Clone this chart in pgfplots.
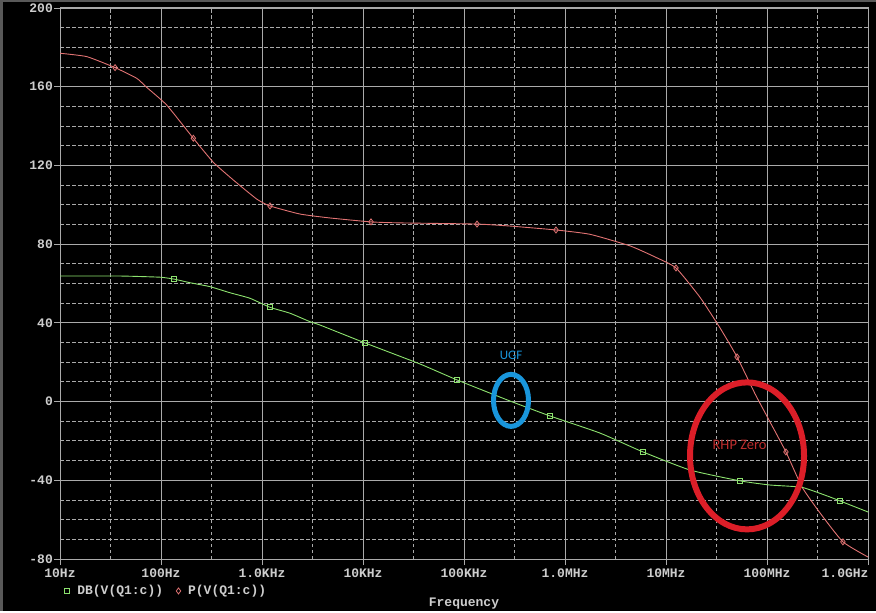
\documentclass[border=0pt]{standalone}
\usepackage{pgfplots}
\pgfplotsset{compat=1.18}
\usepackage{fontspec}
\newfontfamily\psfont{Liberation Mono}
\newfontfamily\annfont{Carlito}
\definecolor{gridgray}{RGB}{170,170,170}
\definecolor{labelgray}{RGB}{205,205,205}
\definecolor{gaingreen}{RGB}{140,225,110}
\definecolor{phasered}{RGB}{225,115,115}
\definecolor{ugfblue}{RGB}{25,150,220}
\definecolor{rhpred}{RGB}{220,30,40}
\definecolor{rhptext}{RGB}{190,45,45}
\newcommand{\psf}{\psfont\bfseries\fontsize{13}{13}\selectfont}
\pgfplotsset{
  legA/.style={legend image code/.code={\path (0pt,0pt) (14.7pt,0pt); \draw[##1] plot coordinates {(7pt,0pt)};}},
  legB/.style={legend image code/.code={\path (0pt,0pt) (12.6pt,0pt); \draw[##1] plot coordinates {(5.2pt,0pt)};}},
}
\begin{document}
\begin{tikzpicture}
\fill[black] (0pt,0pt) rectangle (876pt,611pt);
\fill[black!65] (0pt,0pt) rectangle (3pt,611pt);
\fill[black!65] (0pt,609pt) rectangle (876pt,611pt);
\begin{axis}[
  at={(60pt,52pt)}, anchor=south west,
  scale only axis, width=808pt, height=551pt,
  xmode=log, xmin=10, xmax=1e9, ymin=-80, ymax=200,
  axis line style={gridgray, line width=1pt},
  xtick={10,100,1000,1e4,1e5,1e6,1e7,1e8,1e9},
  xticklabels={10Hz,100Hz,1.0KHz,10KHz,100KHz,1.0MHz,10MHz,100MHz,{}},
  minor xtick={31.62,316.2,3162,31623,316228,3162278,31622777,316227766},
  ytick={-80,-40,0,40,80,120,160,200},
  yticklabels={-80,-40,0,40,80,120,160,200},
  minor ytick={-70,-60,-50,-30,-20,-10,10,20,30,50,60,70,90,100,110,130,140,150,170,180,190},
  grid=both,
  major grid style={gridgray, line width=0.9pt},
  minor grid style={gridgray, line width=0.9pt, dash pattern=on 3.5pt off 2.5pt},
  tick align=outside, tick pos=left, major tick length=6pt, minor tick length=0pt,
  tick style={gridgray, line width=0.9pt},
  ticklabel style={font=\psf, text=labelgray},
  yticklabel style={inner xsep=1pt},
  xlabel={Frequency},
  xlabel style={font=\psf, text=labelgray, at={(axis description cs:0.5,-0.0817)}, anchor=center},
  legend style={at={(axis description cs:0,-0.058)}, anchor=west, draw=none, fill=none,
    text=labelgray, font=\psf, legend columns=2, inner xsep=0pt, inner ysep=0pt,
    /tikz/every even column/.append style={column sep=8pt}},
  legend cell align=left,
]
% phase curve
\addplot[phasered, line width=0.9pt, smooth, tension=0.3, forget plot] coordinates {
(10,177) (18.4,175.3) (35.1,169.7) (57.4,164.3) (72.1,159.7) (113.8,150.7) (209,133.8)
(329.6,121.6) (520,112.6) (887,102.9) (1200,99.4) (2377,95.3) (4710,93.3) (12000,91.3)
(23230,90.8) (134600,90.2) (285000,89.2) (814000,87.2) (1.77e6,85.0) (4.41e6,79.1)
(7.78e6,73.5) (1.256e7,67.9) (2.17e7,53) (3.43e7,37.4) (5.05e7,22.7) (7.6e7,4)
(1e8,-7.5) (1.54e8,-25.6) (2.22e8,-43.4) (3.35e8,-56.6) (5.65e8,-71.3) (1e9,-79)
};
% gain curve
\addplot[gaingreen, line width=0.9pt, smooth, tension=0.3, forget plot] coordinates {
(10,63.8) (39.3,63.8) (97.7,63.2) (135.5,62.2) (193.7,60.4) (305.5,58.4) (482,55.3)
(760,52.5) (1200,47.9) (1892,44.9) (2985,40.6) (3750,38.9) (10470,29.8) (36650,19.1)
(85300,11.0) (285000,0.3) (709000,-7.3) (2.22e6,-16.0) (5.92e6,-25.6) (1.73e7,-34.8)
(5.41e7,-40.3) (1.07e8,-42.4) (2.22e8,-43.6) (4.21e8,-48.5) (5.28e8,-50.5) (1e9,-56.1)
};
% markers
\addplot[only marks, mark=square, mark size=2.5pt, gaingreen,
  mark options={fill=black, line width=0.9pt, solid}, legA]
coordinates {(135.5,62.2) (1200,47.9) (10470,29.8) (85300,11.0) (709000,-7.3)
(5.92e6,-25.6) (5.41e7,-40.3) (5.28e8,-50.5)};
\addlegendentry{DB(V(Q1:c))}
\addplot[only marks, mark=diamond, mark size=3pt, phasered,
  mark options={fill=black, line width=0.8pt, solid}, legB]
coordinates {(35.1,169.7) (209,133.8) (1200,99.4) (12000,91.3) (134600,90.2)
(814000,87.2) (1.256e7,67.9) (5.05e7,22.7) (1.54e8,-25.6) (5.65e8,-71.3)};
\addlegendentry{P(V(Q1:c))}
% annotations
\draw[ugfblue, line width=5pt] (axis cs:2.92e5,0.6) ellipse [x radius=17.5pt, y radius=26pt];
\node[text=ugfblue, font=\annfont\fontsize{13}{13}\selectfont] at (axis cs:2.92e5,23.7) {UGF};
\draw[rhpred, line width=6pt] (axis cs:6.34e7,-27.6) ellipse [x radius=57pt, y radius=73.5pt];
\node[text=rhptext, font=\annfont\fontsize{14.5}{14.5}\selectfont] at (axis cs:5.35e7,-22) {RHP Zero};
\end{axis}
\node[font=\psf, text=labelgray, anchor=north east] at (872pt,46pt) {1.0GHz};
\end{tikzpicture}
\end{document}
